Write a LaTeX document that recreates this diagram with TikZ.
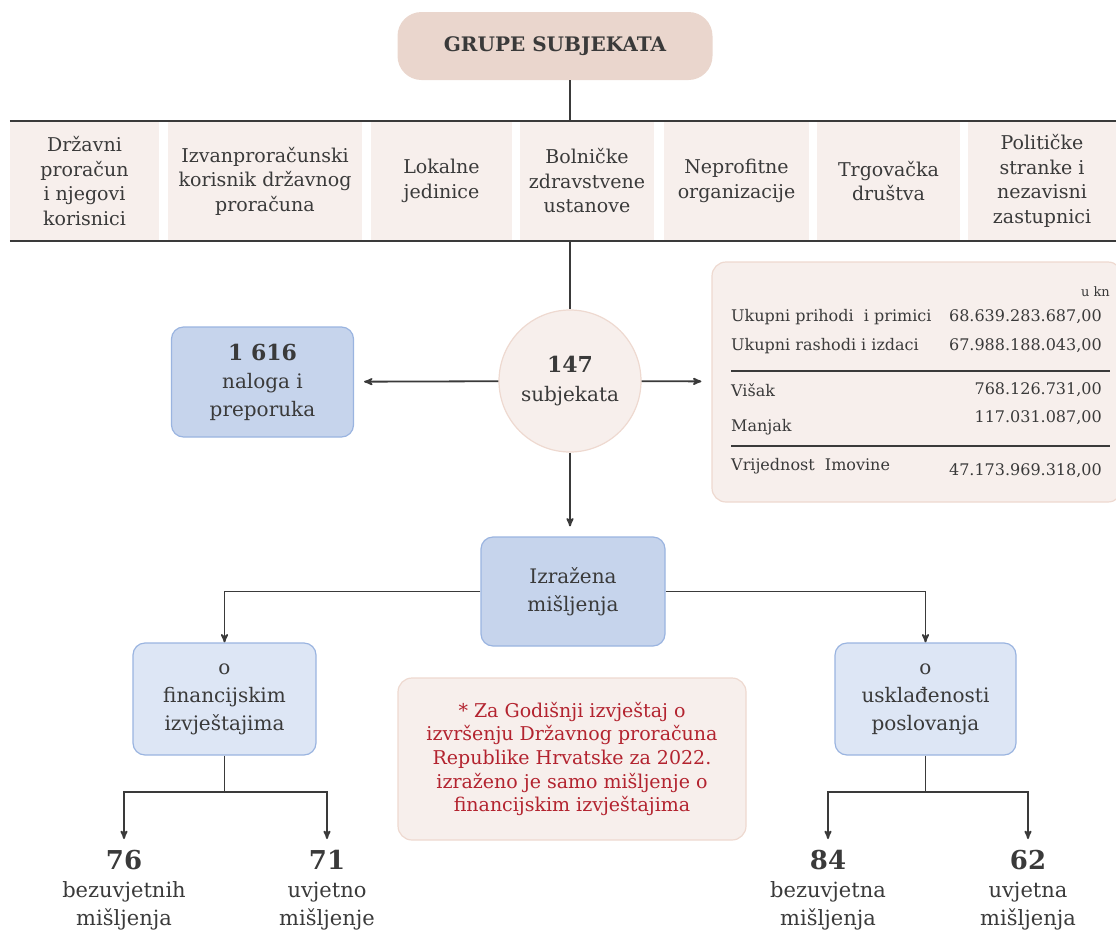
\documentclass[tikz,border=0pt]{standalone}
\usepackage{fontspec}
\setmainfont{DejaVu Serif}
\usetikzlibrary{arrows,positioning}

\definecolor{rose}{HTML}{EAD6CD}
\definecolor{blush}{HTML}{F7EFEC}
\definecolor{blushline}{HTML}{EED9D0}
\definecolor{bluebox}{HTML}{C6D4EC}
\definecolor{lightblue}{HTML}{DDE6F5}
\definecolor{blueline}{HTML}{9AB4E0}
\definecolor{ink}{HTML}{3A3A3A}
\definecolor{note}{HTML}{B3232F}

\newcommand{\fs}[2]{\fontsize{#1}{#2}\selectfont}

\begin{document}
\begin{tikzpicture}[x=1pt,y=-1pt,>=stealth',text=ink,
    line/.style={draw=ink,line width=1.8pt},
    cell/.style={fill=blush,minimum height=120,align=center,font=\fs{19}{24.5},inner sep=0},
    dark/.style={rounded corners=12,fill=bluebox,draw=blueline,line width=1.2pt,align=center,
      font=\fs{20}{28},minimum width=182,minimum height=110,inner sep=0},
    light/.style={dark,fill=lightblue},
    item/.style={anchor=west,font=\fs{16}{18},inner sep=0},
    value/.style={anchor=east,font=\fs{16}{18},inner sep=0},
    count/.style={anchor=north,align=center,font=\fs{21}{28},inner sep=0}]

  \useasboundingbox (0,0) rectangle (1116,932);

  % naslov
  \node[rounded corners=24,fill=rose,minimum width=315,minimum height=68,
        font=\fs{20}{22}\bfseries] (grupe) at (555,46) {GRUPE SUBJEKATA};

  % grupe subjekata
  \node[cell,minimum width=149] (c1) at (84.5,181) {Državni\\proračun\\i njegovi\\korisnici};
  \node[cell,minimum width=194] (c2) at (265,181) {Izvanproračunski\\korisnik državnog\\proračuna};
  \node[cell,minimum width=141] (c3) at (441.5,181) {Lokalne\\jedinice};
  \node[cell,minimum width=134] (c4) at (587,181) {Bolničke\\zdravstvene\\ustanove};
  \node[cell,minimum width=145] (c5) at (736.5,181) {Neprofitne\\organizacije};
  \node[cell,minimum width=143] (c6) at (888.5,181) {Trgovačka\\društva};
  \node[cell,minimum width=148] (c7) at (1042,181) {Političke\\stranke i\\nezavisni\\zastupnici};

  \draw[line] (c1.north west) -- (c7.north east);
  \draw[line] (c1.south west) -- (c7.south east);
  \coordinate (top) at (570,121);

  % subjekti
  \node[circle,fill=blush,draw=blushline,line width=1.2pt,minimum size=142,inner sep=0,
        align=center,font=\fs{20}{29}] (subj) at (570,381)
        {{\fs{22}{29}\bfseries 147}\\subjekata};
  \node[dark] (nal) at (262.5,382) {{\fs{22}{27}\bfseries 1 616}\\naloga i\\preporuka};
  \node[rounded corners=14,fill=blush,draw=blushline,line width=1.2pt,
        minimum width=410,minimum height=240] (panel) at (917,382) {};

  \draw[line] (grupe.south -| top) -- (top);
  \draw[line] (top |- c4.south) -- (subj);
  \draw[line,->,shorten >=10] (subj) -- (nal);
  \draw[line,->,shorten >=10] (subj) -- (panel);

  % iznosi
  \node[value,font=\fs{13}{14}] (ukn) at (1110,292) {u kn};
  \node[item] (prih) at (731,317) {Ukupni prihodi\ \ i primici};
  \node[value] (prihv) at (1102,317) {68.639.283.687,00};
  \node[item] (rash) at (731,346) {Ukupni rashodi i izdaci};
  \node[value] (rashv) at (1102,346) {67.988.188.043,00};
  \draw[draw=ink,line width=1.2pt] (731,371) -- (1110,371);
  \node[item] (visak) at (731,390) {Višak};
  \node[value] (visakv) at (1102,390) {768.126.731,00};
  \node[item] (manjak) at (731,427) {Manjak};
  \node[value] (manjakv) at (1102,418) {117.031.087,00};
  \draw[draw=ink,line width=1.2pt] (731,446) -- (1110,446);
  \node[item] (imov) at (731,466) {Vrijednost\ \ Imovine};
  \node[value] (imovv) at (1102,471) {47.173.969.318,00};

  % misljenja
  \node[dark,minimum width=184,minimum height=109] (izr) at (573,591.5) {Izražena\\mišljenja};
  \node[light,minimum width=183,minimum height=112] (fin) at (224.5,699) {o\\financijskim\\izvještajima};
  \node[light,minimum width=181,minimum height=112] (usk) at (925.5,699) {o\\usklađenosti\\poslovanja};

  \draw[line,->,shorten >=10] (subj.south) -- (subj.south |- izr.north);
  \draw[line,->] (izr.west) -| (fin.north);
  \draw[line,->] (izr.east) -| (usk.north);

  \node[rounded corners=14,fill=blush,draw=blushline,line width=1.2pt,minimum width=348,
        minimum height=162,align=center,text=note,font=\fs{19}{23.5}] (napomena) at (572,759)
        {* Za Godišnji izvještaj o\\izvršenju Državnog proračuna\\Republike Hrvatske za 2022.\\
         izraženo je samo mišljenje o\\financijskim izvještajima};

  % broj misljenja
  \node[count] (n76) at (124,850) {{\fs{26}{28}\bfseries 76}\\bezuvjetnih\\mišljenja};
  \node[count] (n71) at (327,850) {{\fs{26}{28}\bfseries 71}\\uvjetno\\mišljenje};
  \node[count] (n84) at (828,850) {{\fs{26}{28}\bfseries 84}\\bezuvjetna\\mišljenja};
  \node[count] (n62) at (1028,850) {{\fs{26}{28}\bfseries 62}\\uvjetna\\mišljenja};

  \coordinate (fb) at (224.5,792);
  \coordinate (ub) at (925.5,792);
  \draw[line] (fin) -- (fb);
  \draw[line] (usk) -- (ub);
  \draw[line,->,shorten >=11] (fb) -| (n76.north);
  \draw[line,->,shorten >=11] (fb) -| (n71.north);
  \draw[line,->,shorten >=11] (ub) -| (n84.north);
  \draw[line,->,shorten >=11] (ub) -| (n62.north);

\end{tikzpicture}
\end{document}
